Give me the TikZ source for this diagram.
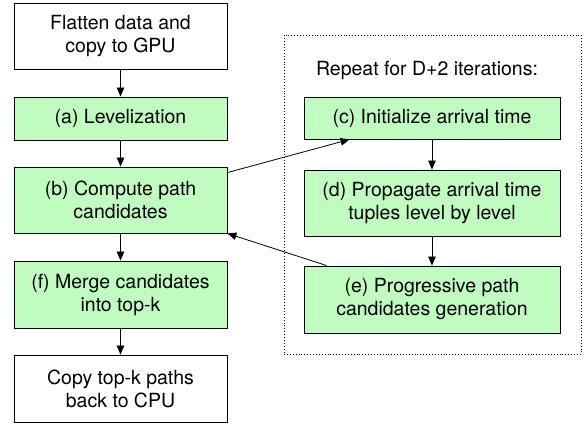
\documentclass[tikz,border=0pt]{standalone}
\usepackage{fontspec}
\setmainfont{TeX Gyre Heros}
\usetikzlibrary{arrows.meta,calc}
\definecolor{boxgreen}{RGB}{192,252,192}
\begin{document}
\begin{tikzpicture}[x=1pt,y=-1pt,
  box/.style={draw=black,line width=0.9pt,minimum width=213pt,align=center,
    font=\fontsize{19.5}{23}\selectfont,inner sep=0pt},
  gbox/.style={box,fill=boxgreen},
  rbox/.style={gbox,minimum width=256pt},
  arr/.style={line width=0.8pt,-{Triangle[length=9pt,width=7.5pt]}}]
\useasboundingbox (0,0) rectangle (587,426);
\node[box,minimum height=66pt] (flat) at (120.5,36) {Flatten data and\\copy to GPU};
\node[gbox,minimum height=43pt] (a) at (120.5,118.5) {(a) Levelization};
\node[gbox,minimum height=66pt] (b) at (120.5,200) {(b) Compute path\\candidates};
\node[gbox,minimum height=67pt] (f) at (120.5,294.5) {(f) Merge candidates\\into top-k};
\node[box,minimum height=67pt] (copy) at (120.5,388.5) {Copy top-k paths\\back to CPU};
\node[draw=black,dotted,line width=0.9pt,minimum width=297pt,minimum height=319pt,inner sep=0pt] (loop) at (432.5,194.5) {};
\node[font=\fontsize{19.5}{23}\selectfont,inner sep=0pt] (rep) at (427,70) {Repeat for D+2 iterations:};
\node[rbox,minimum height=42pt] (c) at (432,118) {(c) Initialize arrival time};
\node[rbox,minimum height=66pt] (d) at (432,203) {(d) Propagate arrival time\\tuples level by level};
\node[rbox,minimum height=67pt] (e) at (432,299.5) {(e) Progressive path\\candidates generation};
\draw[arr] (flat) -- (a);
\draw[arr] (a) -- (b);
\draw[arr] (b) -- (f);
\draw[arr] (f) -- (copy);
\draw[arr] (c) -- (d);
\draw[arr] (d) -- (e);
\draw[arr] ($(b.north east)+(0,6)$) -- ($(c.south west)+(46,0)$);
\draw[arr] ($(e.north west)+(23,0)$) -- (b.south east);
\end{tikzpicture}
\end{document}
